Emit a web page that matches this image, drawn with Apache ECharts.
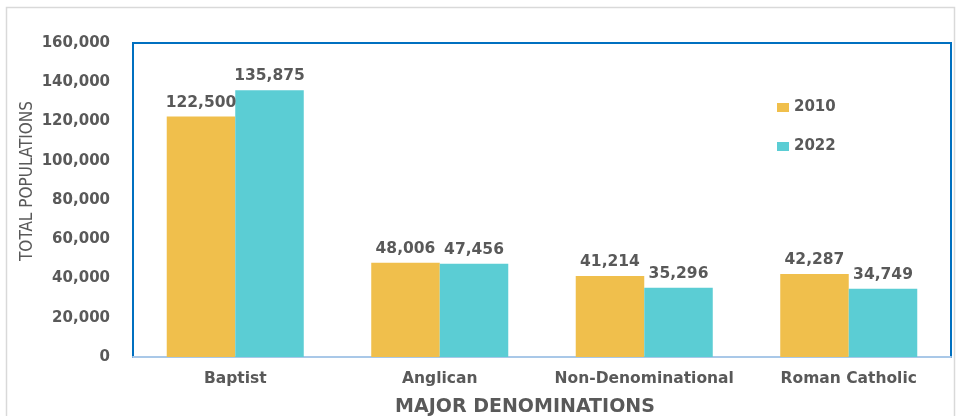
<!DOCTYPE html>
<html>
<head>
<meta charset="utf-8">
<script src="https://cdn.jsdelivr.net/npm/echarts@6/dist/echarts.min.js"></script>
<style>
  html, body { margin: 0; padding: 0; background: #fff; }
  #chart { width: 960px; height: 416px; }
</style>
</head>
<body>
<div id="chart"></div>
<script>
const categories = ['Baptist', 'Anglican', 'Non-Denominational', 'Roman Catholic'];
const values2010 = [122500, 48006, 41214, 42287];
const values2022 = [135875, 47456, 35296, 34749];
const seriesNames = ['2010', '2022'];

const colors = ['#F0BF4C', '#5BCDD4'];
const textGray = '#595959';
const fontFamily = '"DejaVu Sans", Verdana, sans-serif';

const chart = echarts.init(document.getElementById('chart'));

const labelStyle = {
  show: true,
  position: 'top',
  distance: 6,
  color: textGray,
  fontFamily,
  fontWeight: 'bold',
  fontSize: 15.5,
  formatter: p => p.value.toLocaleString('en-US')
};

chart.setOption({
  animation: false,
  backgroundColor: '#fff',
  color: colors,
  grid: {
    left: 133, right: 9, top: 43, bottom: 59,
    show: true,
    borderColor: '#0070C0',
    borderWidth: 2,
    backgroundColor: 'transparent'
  },
  legend: {
    orient: 'vertical',
    left: 772,
    top: 95,
    itemWidth: 12,
    itemHeight: 9,
    itemGap: 24,
    icon: 'rect',
    textStyle: { color: textGray, fontFamily, fontWeight: 'bold', fontSize: 15 },
    data: seriesNames
  },
  xAxis: {
    type: 'category',
    data: categories,
    axisLine: { show: true, lineStyle: { color: '#A9C8E8', width: 2 } },
    axisTick: { show: false },
    axisLabel: {
      interval: 0,
      margin: 14,
      color: textGray,
      fontFamily,
      fontWeight: 'bold',
      fontSize: 15.5
    }
  },
  yAxis: {
    type: 'value',
    min: 0,
    max: 160000,
    interval: 20000,
    splitLine: { show: false },
    axisLine: { show: false },
    axisTick: { show: false },
    axisLabel: {
      margin: 23,
      color: textGray,
      fontFamily,
      fontWeight: 'bold',
      fontSize: 15,
      formatter: v => v.toLocaleString('en-US')
    }
  },
  graphic: [
    {
      type: 'rect',
      shape: { x: 6.5, y: 7.5, width: 948, height: 420 },
      style: { fill: 'none', stroke: '#D9D9D9', lineWidth: 1.5 },
      z: -10
    },
    {
      type: 'text',
      x: 28,
      y: 181,
      rotation: Math.PI / 2,
      style: {
        text: 'TOTAL POPULATIONS',
        fill: textGray,
        align: 'center',
        verticalAlign: 'middle',
        font: '17px "DejaVu Sans Condensed", "Liberation Sans Narrow", sans-serif'
      }
    },
    {
      type: 'text',
      x: 525,
      y: 407,
      style: {
        text: 'MAJOR DENOMINATIONS',
        fill: textGray,
        align: 'center',
        verticalAlign: 'middle',
        font: 'bold 19px ' + fontFamily
      }
    }
  ],
  series: [
    {
      name: seriesNames[0],
      type: 'bar',
      data: values2010,
      barGap: '0%',
      barCategoryGap: '33%',
      label: labelStyle
    },
    {
      name: seriesNames[1],
      type: 'bar',
      data: values2022,
      label: labelStyle
    }
  ]
});
</script>
</body>
</html>
